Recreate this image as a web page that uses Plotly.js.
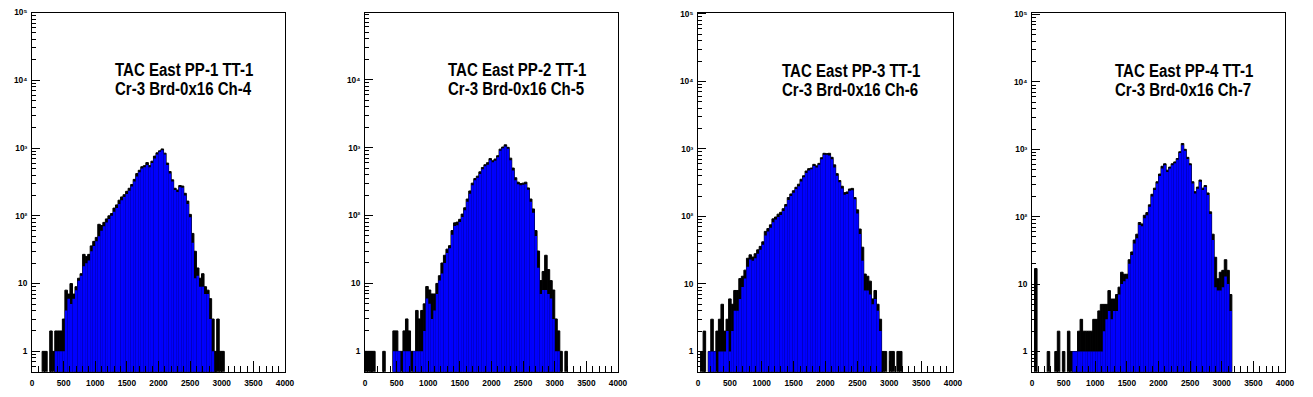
<!DOCTYPE html>
<html><head><meta charset="utf-8">
<script src="https://cdn.plot.ly/plotly-3.0.1.min.js"></script>
<style>
html,body{margin:0;padding:0;background:#fff}
#chart{width:1313px;height:397px}
#chart .annotation-text{transform:scaleX(0.835);transform-box:fill-box;transform-origin:left center}
</style>
</head><body><div id="chart"></div>
<script>
// ---- data (histogram counts per 40-unit bin, 0..4000) ----
const BIN_WIDTH = 40;
const X_MIN = 0, X_MAX = 4000;

const titleLines1 = ["TAC East PP-1 TT-1", "TAC East PP-2 TT-1", "TAC East PP-3 TT-1", "TAC East PP-4 TT-1"];
const titleLines2 = ["Cr-3 Brd-0x16 Ch-4", "Cr-3 Brd-0x16 Ch-5", "Cr-3 Brd-0x16 Ch-6", "Cr-3 Brd-0x16 Ch-7"];

const xTickVals = [0, 500, 1000, 1500, 2000, 2500, 3000, 3500, 4000];
const xTickText = ["0", "500", "1000", "1500", "2000", "2500", "3000", "3500", "4000"];
const yTickVals = [1, 10, 100, 1000, 10000, 100000];
const yTickText = ["1", "10", "10\u00B2", "10\u00B3", "10\u2074", "10\u2075"];

// blue fill level of each bin
const pp1Fill = [0,0,0,0,0,0,0,0,0,1, 1,1,1,4,6,5,6,8,11,13, 18,20,22,30,36,42,50,60,70,80,
  90,100,115,130,150,170,190,210,235,270, 320,380,440,500,520,560,520,600,700,800,
  880,930,800,560,420,320,240,225,265,260, 200,150,95,40,12,13,9,9,7,7,
  3,1,0,0,0,0,0,0,0,0, 0,0,0,0,0,0,0,0,0,0, 0,0,0,0,0,0,0,0,0,0];
// black outline (upper envelope) of each bin
const pp1Edge = [0,0,0,0,1,1,0,2,1,2, 2,2,3,8,7,10,7,9,12,14, 27,25,27,36,42,48,75,72,80,90,
  100,108,130,145,170,190,205,230,255,290, 345,420,470,530,550,610,550,640,760,850,
  910,970,840,600,450,340,255,240,280,275, 215,165,105,55,30,17,12,14,9,8,
  6,3,1,3,1,1,0,0,0,0, 0,0,0,0,0,0,0,0,0,0, 0,0,0,0,0,0,0,0,0,0];

const pp2Fill = [0,0,0,0,0,0,0,0,0,0, 0,1,1,1,0,1,1,1,0,1, 1,1,1,2,6,5,3,4,7,11,
  14,20,28,33,52,70,72,80,95,120, 160,210,280,330,360,410,480,530,560,650,
  610,640,720,900,980,1040,960,650,460,330, 290,280,285,290,240,160,110,50,17,7,
  8,8,7,6,3,1,1,0,0,0, 0,0,0,0,0,0,0,0,0,0, 0,0,0,0,0,0,0,0,0,0];
const pp2Edge = [1,1,1,1,0,0,0,1,0,0, 0,2,2,1,1,2,3,2,1,1, 4,3,4,5,9,8,7,7,10,13,
  20,26,32,36,60,78,80,88,105,130, 175,230,300,350,380,440,510,560,600,690,
  640,680,760,950,1020,1100,1010,700,500,360, 310,295,300,310,255,175,125,60,30,11,
  15,26,16,11,8,3,2,1,0,1, 0,0,0,0,0,0,0,0,0,0, 0,0,0,0,0,0,0,0,0,0];

const pp3Fill = [0,0,0,0,1,1,1,0,1,1, 1,2,1,2,4,4,6,9,12,18, 23,22,24,28,32,38,52,60,68,82,
  90,98,105,120,140,175,200,225,255,280, 330,380,440,480,500,560,530,580,700,820,
  820,800,700,530,400,320,260,210,215,240, 245,180,110,55,22,8,8,7,5,6,
  4,2,0,0,0,0,0,0,0,0, 0,0,0,0,0,0,0,0,0,0, 0,0,0,0,0,0,0,0,0,0];
const pp3Edge = [0,1,2,0,1,3,1,2,3,5, 2,3,6,5,8,8,12,13,16,24, 27,25,28,32,36,42,60,66,75,92,
  98,108,115,130,150,190,215,240,270,300, 355,400,470,510,520,590,560,610,740,860,
  850,860,750,580,430,340,280,225,230,255, 260,190,125,65,35,14,13,11,6,8,
  5,3,1,1,0,1,1,0,1,1, 0,0,0,0,0,0,0,0,0,0, 0,0,0,0,0,0,0,0,0,0];

const pp4Fill = [0,0,0,0,0,0,0,0,0,0, 0,0,0,0,0,0,1,1,1,1, 1,1,1,1,1,1,1,1,2,3,
  4,3,4,4,7,10,11,12,20,27, 40,48,75,72,95,105,140,200,250,310,
  400,520,580,460,520,580,620,700,880,1150, 950,720,580,310,220,260,330,250,275,210,
  110,45,9,8,8,9,13,10,4,0, 0,0,0,0,0,0,0,0,0,0, 0,0,0,0,0,0,0,0,0,0];
const pp4Edge = [0,17,0,0,0,0,1,0,0,1, 2,0,1,0,2,1,1,1,2,3, 2,2,2,2,3,3,4,5,5,5,
  8,6,6,7,9,15,14,14,23,30, 45,55,82,78,105,115,150,215,265,330,
  430,560,610,490,545,610,650,730,920,1220, 1000,760,610,330,235,275,350,265,290,225,
  118,55,25,12,15,16,23,16,7,0, 0,0,0,0,0,0,0,0,0,0, 0,0,0,0,0,0,0,0,0,0];

const fillSeries = [pp1Fill, pp2Fill, pp3Fill, pp4Fill];
const edgeSeries = [pp1Edge, pp2Edge, pp3Edge, pp4Edge];

// ---- layout geometry / style ----
const W = 1313, H = 397;
const frames = [[32, 285], [365, 618], [698, 953], [1032, 1285]];
const frameTop = 12.5, frameBottom = 371.7;
const yRanges = [[-0.30, 5.0], [-0.30, 4.99], [-0.30, 5.02], [-0.30, 5.03]];
const textPos = [[115, 69.5, 88.5], [448, 69.5, 88.5], [781.5, 71, 90], [1115, 71, 90]];
const FONT = "Liberation Sans, Arial, sans-serif";

const binStarts = [];
for (let x = X_MIN; x < X_MAX; x += BIN_WIDTH) binStarts.push(x);

const yMinor = [];
for (let e = -1; e <= 4; e++) for (let m = 2; m <= 9; m++) {
  const v = m * Math.pow(10, e);
  if (v >= 0.55) yMinor.push(v);
}

const traces = [];
const layout = {
  width: W, height: H, margin: {l: 0, r: 0, t: 0, b: 0},
  paper_bgcolor: "#fff", plot_bgcolor: "#fff",
  showlegend: false, barmode: "overlay", hovermode: false,
  annotations: []
};

for (let p = 0; p < 4; p++) {
  const sfx = p === 0 ? "" : String(p + 1);
  const xa = "x" + sfx, ya = "y" + sfx;
  traces.push({
    type: "bar", x: binStarts, y: edgeSeries[p], width: BIN_WIDTH, offset: 0,
    xaxis: xa, yaxis: ya,
    marker: {color: "#000000", line: {color: "#000000", width: 1}}
  });
  traces.push({
    type: "bar", x: binStarts, y: fillSeries[p], width: BIN_WIDTH, offset: 0,
    xaxis: xa, yaxis: ya,
    marker: {color: "#0000ff", line: {width: 0}}
  });
  const [l, r] = frames[p];
  layout["xaxis" + sfx] = {
    domain: [l / W, r / W], anchor: ya, range: [X_MIN, X_MAX],
    showgrid: false, zeroline: false, showline: true, mirror: true,
    linecolor: "#000", linewidth: 1,
    tickmode: "array", tickvals: xTickVals, ticktext: xTickText,
    ticks: "inside", ticklen: 10.8, tickwidth: 1, tickcolor: "#000",
    ticklabelstandoff: 3,
    tickfont: {family: FONT, size: 8.3, color: "#000", weight: "bold"},
    minor: {dtick: 100, tick0: 0, ticks: "inside", ticklen: 5.4, tickwidth: 1, tickcolor: "#000", showgrid: false}
  };
  layout["yaxis" + sfx] = {
    domain: [1 - frameBottom / H, 1 - frameTop / H], anchor: xa,
    type: "log", range: yRanges[p],
    showgrid: false, zeroline: false, showline: true, mirror: true,
    linecolor: "#000", linewidth: 1,
    tickmode: "array", tickvals: yTickVals, ticktext: yTickText,
    ticks: "inside", ticklen: 7.6, tickwidth: 1, tickcolor: "#000",
    ticklabelstandoff: 2,
    tickfont: {family: FONT, size: 8.3, color: "#000", weight: "bold"},
    minor: {tickmode: "array", tickvals: yMinor, ticks: "inside", ticklen: 3.8, tickwidth: 1, tickcolor: "#000", showgrid: false}
  };
  const [tx, ty1, ty2] = textPos[p];
  [[titleLines1[p], ty1], [titleLines2[p], ty2]].forEach(([txt, ty]) => {
    layout.annotations.push({
      xref: "paper", yref: "paper", x: (tx - 2) / W, y: 1 - ty / H,
      xanchor: "left", yanchor: "middle", align: "left", showarrow: false, text: txt,
      font: {family: FONT, size: 18, color: "#000", weight: "bold"}
    });
  });
}

Plotly.newPlot("chart", traces, layout, {displayModeBar: false, responsive: false});
</script>
</body></html>
